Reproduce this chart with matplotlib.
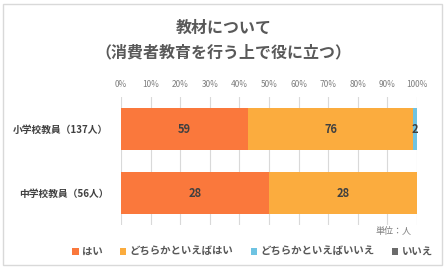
import matplotlib.pyplot as plt
import numpy as np
from matplotlib.patches import Rectangle, Patch

plt.rcParams['font.family'] = ['Noto Sans CJK JP', 'DejaVu Sans']

# Data
groups = ['小学校教員（137人）', '中学校教員（56人）']
series = ['はい', 'どちらかといえばはい', 'どちらかといえばいいえ', 'いいえ']
counts = [
    [59, 28],   # はい
    [76, 28],   # どちらかといえばはい
    [2, 0],     # どちらかといえばいいえ
    [0, 0],     # いいえ
]
colors = ['#FA783C', '#FBAC3E', '#6EC3E2', '#6B6B6B']

counts = np.array(counts, dtype=float)
totals = counts.sum(axis=0)
shares = counts / totals * 100

fig = plt.figure(figsize=(4.47, 2.78), dpi=100)
ax = fig.add_axes([0.2707, 0.1906, 0.6622, 0.4604])

y = np.arange(len(groups))
left = np.zeros(len(groups))
for i, name in enumerate(series):
    ax.barh(y, shares[i], left=left, height=0.66, color=colors[i], label=name, zorder=2)
    for j in range(len(groups)):
        if counts[i, j] > 0:
            ax.text(left[j] + shares[i, j] / 2, y[j], f'{int(counts[i, j])}',
                    ha='center', va='center', fontsize=8, fontweight='bold',
                    color='#404040', zorder=3)
    left += shares[i]

ax.set_xlim(0, 100)
ax.set_ylim(1.5, -0.5)
ax.set_xticks(np.arange(0, 101, 10))
ax.set_xticklabels([f'{v}%' for v in range(0, 101, 10)])
ax.xaxis.tick_top()
ax.tick_params(axis='x', length=0, labelsize=6, labelcolor='#7F7F7F', pad=6)
ax.set_yticks(y)
ax.set_yticklabels(groups)
ax.tick_params(axis='y', length=0, labelsize=7, labelcolor='#404040', pad=9)
for lab in ax.get_yticklabels():
    lab.set_fontweight('bold')
ax.grid(axis='x', color='#D9D9D9', linewidth=0.8, zorder=0)
for s in ax.spines.values():
    s.set_visible(False)

fig.text(0.5, 0.9, '教材について', ha='center', va='center', fontsize=11.5,
         fontweight='bold', color='#595959')
fig.text(0.5, 0.81, '（消費者教育を行う上で役に立つ）', ha='center', va='center',
         fontsize=11.5, fontweight='bold', color='#595959')
fig.text(0.92, 0.168, '単位：人', ha='right', va='center', fontsize=6.5,
         color='#7F7F7F')

handles = [Patch(facecolor=c, label=n) for c, n in zip(colors, series)]
fig.legend(handles=handles, loc='center', bbox_to_anchor=(0.565, 0.093), ncol=4,
           frameon=False, handlelength=0.6, handleheight=0.6,
           handletextpad=0.3, columnspacing=1.7, prop={'weight': 'bold', 'size': 7.5})
for t in fig.legends[0].get_texts():
    t.set_color('#595959')

fig.patches.append(Rectangle((0.007, 0.047), 0.982, 0.939, transform=fig.transFigure,
                             fill=False, edgecolor='#D9D9D9', linewidth=1))

fig.savefig('out.png', dpi=100)
